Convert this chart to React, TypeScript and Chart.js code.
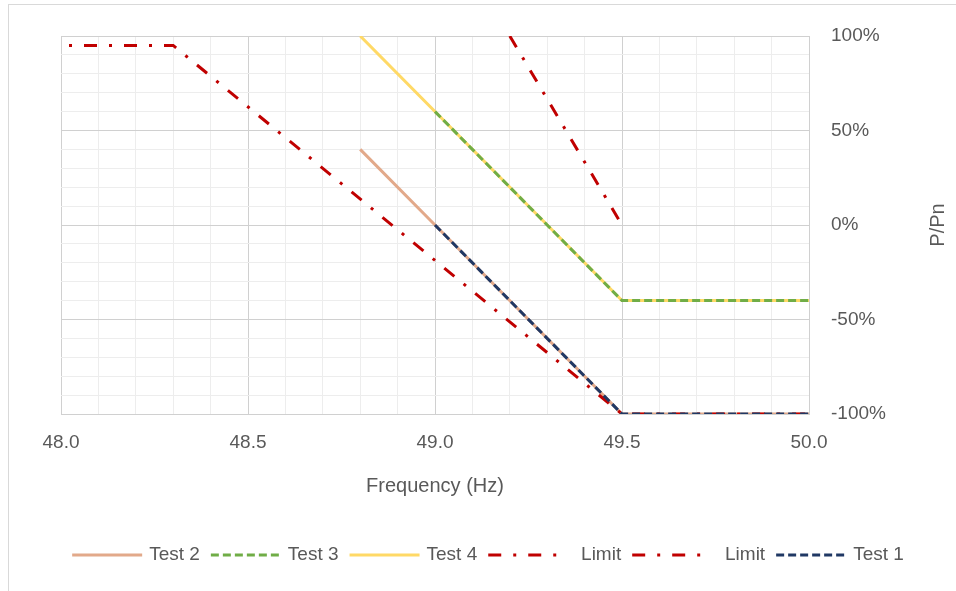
import React, { useEffect, useRef } from "react";
import { Chart, registerables } from "chart.js";

Chart.register(...registerables);

// ---- data ----
const test2X = [48.8, 49.0, 49.5, 50.0];
const test2Y = [40, 0, -100, -100];
const test3X = [49.0, 49.5, 50.0];
const test3Y = [60, -40, -40];
const test4X = [48.8, 49.5, 50.0];
const test4Y = [100, -40, -40];
const limitAX = [48.0, 48.3, 49.5, 50.0];
const limitAY = [95, 95, -100, -100];
const limitBX = [49.2, 49.5];
const limitBY = [100, 0];
const test1X = [49.0, 49.5, 50.0];
const test1Y = [0, -100, -100];

const xTickLabels = ["48.0", "48.5", "49.0", "49.5", "50.0"];
const yTickLabels = ["-100%", "-50%", "0%", "50%", "100%"];
const yTitle = "P/Pn";

const pts = (xs: number[], ys: number[]) => xs.map((x, i) => ({ x, y: ys[i] }));

const FONT = "'Liberation Sans', 'DejaVu Sans', sans-serif";
const TXT = "#595959";

const isMajor = (v: number, step: number) => Math.abs(v / step - Math.round(v / step)) < 1e-6;

const legendPlugin = {
  id: "lineLegend",
  afterDraw(chart: any) {
    const ctx = chart.ctx;
    const ds = chart.data.datasets;
    const sample = 70;
    const gapText = 7;
    const gapItem = 11;
    const y = 555;
    ctx.save();
    ctx.font = `19px ${FONT}`;
    let total = 0;
    ds.forEach((d: any, i: number) => {
      total += sample + gapText + ctx.measureText(d.label).width;
      if (i < ds.length - 1) total += gapItem;
    });
    let x = 488 - total / 2;
    ds.forEach((d: any) => {
      ctx.save();
      ctx.strokeStyle = d.borderColor;
      ctx.lineWidth = d.borderWidth;
      ctx.setLineDash(d.borderDash || []);
      ctx.lineCap = "butt";
      ctx.beginPath();
      ctx.moveTo(x, y);
      ctx.lineTo(x + sample, y);
      ctx.stroke();
      ctx.restore();
      x += sample + gapText;
      ctx.fillStyle = TXT;
      ctx.textBaseline = "middle";
      ctx.textAlign = "left";
      ctx.fillText(d.label, x, y);
      x += ctx.measureText(d.label).width + gapItem;
    });
    // rotated y-axis title, reading bottom to top
    const area = chart.chartArea;
    ctx.save();
    ctx.translate(938, (area.top + area.bottom) / 2);
    ctx.rotate(-Math.PI / 2);
    ctx.font = `20px ${FONT}`;
    ctx.fillStyle = TXT;
    ctx.textAlign = "center";
    ctx.textBaseline = "middle";
    ctx.fillText(yTitle, 0, 0);
    ctx.restore();
    ctx.restore();
  },
};

export default function App() {
  const ref = useRef<HTMLCanvasElement>(null);
  useEffect(() => {
    if (!ref.current) return;
    const chart = new Chart(ref.current, {
      type: "line",
      data: {
        datasets: [
          { label: "Test 2", data: pts(test2X, test2Y), borderColor: "#E2A98A", borderWidth: 3, order: 5 },
          { label: "Test 3", data: pts(test3X, test3Y), borderColor: "#70AD47", borderWidth: 3, borderDash: [8, 4], order: 3 },
          { label: "Test 4", data: pts(test4X, test4Y), borderColor: "#FFD966", borderWidth: 3, order: 4 },
          { label: "   Limit", data: pts(limitAX, limitAY), borderColor: "#C00000", borderWidth: 3, borderDash: [13, 12, 3, 12], borderDashOffset: 17, order: 2 },
          { label: "   Limit", data: pts(limitBX, limitBY), borderColor: "#C00000", borderWidth: 3, borderDash: [13, 12, 3, 12], order: 1 },
          { label: "Test 1", data: pts(test1X, test1Y), borderColor: "#203864", borderWidth: 3, borderDash: [8, 4], order: 0 },
        ] as any,
      },
      options: {
        responsive: false,
        animation: false,
        events: [],
        elements: { point: { radius: 0 }, line: { tension: 0, borderCapStyle: "butt" } },
        layout: { padding: { left: 61, top: 36, right: 4, bottom: 89 } },
        plugins: { legend: { display: false }, tooltip: { enabled: false } },
        scales: {
          x: {
            type: "linear",
            min: 48,
            max: 50,
            afterFit: (s: any) => { s.height = 88; },
            ticks: {
              stepSize: 0.1,
              autoSkip: false,
              maxRotation: 0,
              padding: 17,
              color: TXT,
              font: { family: FONT, size: 19 },
              callback: (v: any) => {
                if (!isMajor(v, 0.5)) return "";
                const idx = Math.round((v - 48) / 0.5);
                return xTickLabels[idx];
              },
            },
            grid: {
              drawTicks: false,
              color: (c: any) => (isMajor(c.tick.value, 0.5) ? "#D0D0D0" : "#EDEDED"),
            },
            border: { color: "#D0D0D0" },
            title: { display: true, text: "Frequency (Hz)", color: TXT, font: { family: FONT, size: 20 }, padding: 4 },
          },
          y: {
            type: "linear",
            position: "right",
            min: -100,
            max: 100,
            afterFit: (s: any) => { s.width = 143; },
            ticks: {
              stepSize: 10,
              autoSkip: false,
              padding: 22,
              color: TXT,
              font: { family: FONT, size: 19 },
              callback: (v: any) => {
                if (!isMajor(v, 50)) return "";
                const idx = Math.round((v + 100) / 50);
                return yTickLabels[idx];
              },
            },
            grid: {
              drawTicks: false,
              color: (c: any) => (isMajor(c.tick.value, 50) ? "#D0D0D0" : "#EDEDED"),
            },
            border: { color: "#D0D0D0" },
            title: { display: false },
          },
        },
      } as any,
      plugins: [legendPlugin],
    });
    return () => chart.destroy();
  }, []);
  return (
    <div style={{ position: "fixed", left: 0, top: 0, width: 956, height: 591, overflow: "hidden", background: "#fff" }}>
      <div style={{ position: "absolute", left: 8, top: 4, width: 980, height: 620, border: "1px solid #D9D9D9" }} />
      <canvas ref={ref} width={956} height={591} style={{ position: "absolute", left: 0, top: 0, display: "block" }} />
    </div>
  );
}
